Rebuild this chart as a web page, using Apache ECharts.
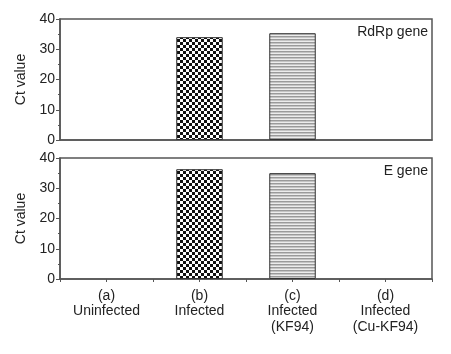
<!DOCTYPE html>
<html>
<head>
<meta charset="utf-8">
<script src="https://cdn.jsdelivr.net/npm/echarts@6/dist/echarts.min.js"></script>
<style>
  html, body { margin: 0; padding: 0; background: #fff; }
  #chart { width: 451px; height: 354px; }
</style>
</head>
<body>
<div id="chart"></div>
<script>
// categories and values (Ct values, 0 = not detected)
const categories = ['(a)\nUninfected', '(b)\nInfected', '(c)\nInfected\n(KF94)', '(d)\nInfected\n(Cu-KF94)']
const rdrpValues = [0, 34, 35.3, 0]
const eGeneValues = [0, 36.3, 35, 0]
const yTicks = [0, 10, 20, 30, 40]
const panelNames = ['RdRp gene', 'E gene']

// fill patterns
function checkerPattern() {
  const c = document.createElement('canvas')
  c.width = 6
  c.height = 6
  const ctx = c.getContext('2d')
  ctx.fillStyle = '#fff'
  ctx.fillRect(0, 0, 6, 6)
  ctx.fillStyle = '#111'
  ctx.fillRect(0, 0, 3, 3)
  ctx.fillRect(3, 3, 3, 3)
  return { image: c, repeat: 'repeat' }
}
function stripePattern() {
  const c = document.createElement('canvas')
  c.width = 4
  c.height = 3
  const ctx = c.getContext('2d')
  ctx.fillStyle = '#9a9a9a'
  ctx.fillRect(0, 0, 4, 1)
  ctx.fillStyle = '#c4c4c4'
  ctx.fillRect(0, 1, 4, 1)
  ctx.fillStyle = '#ececec'
  ctx.fillRect(0, 2, 4, 1)
  return { image: c, repeat: 'repeat' }
}
const fills = [null, checkerPattern(), stripePattern(), null]

function toData(values) {
  return values.map((v, i) => ({
    value: v,
    itemStyle: fills[i] ? { color: fills[i] } : { color: 'transparent', borderWidth: 0 }
  }))
}

const lineColor = '#555'
const textColor = '#222'
const font = 'Liberation Sans, Arial, sans-serif'

const chart = echarts.init(document.getElementById('chart'))

function yAxisFor(gridIndex) {
  return {
    type: 'value',
    gridIndex,
    min: yTicks[0],
    max: yTicks[yTicks.length - 1],
    interval: 10,
    name: 'Ct value',
    nameLocation: 'middle',
    nameGap: 30,
    nameTextStyle: { color: textColor, fontSize: 14, fontFamily: font },
    axisLine: { show: true, lineStyle: { color: lineColor, width: 1.5 } },
    axisTick: { show: true, length: 4, lineStyle: { color: lineColor } },
    minorTick: { show: true, splitNumber: 2, length: 2, lineStyle: { color: lineColor } },
    axisLabel: { color: textColor, fontSize: 14, fontFamily: font, margin: 5 },
    splitLine: { show: false }
  }
}

const option = {
  animation: false,
  grid: [
    { left: 60, right: 19, top: 19, height: 121, show: true, borderColor: lineColor, borderWidth: 1.5 },
    { left: 60, right: 19, top: 158, height: 121, show: true, borderColor: lineColor, borderWidth: 1.5 },
    // same box as the lower panel, only for the tick marks
    { left: 60, right: 19, top: 158, height: 121, show: false }
  ],
  xAxis: [
    {
      type: 'category', gridIndex: 0, data: categories,
      axisLine: { lineStyle: { color: lineColor, width: 1.5 } },
      axisTick: { show: false },
      axisLabel: { show: false }
    },
    {
      type: 'category', gridIndex: 1, data: categories,
      axisLine: { lineStyle: { color: lineColor, width: 1.5 } },
      axisTick: { show: false },
      axisLabel: {
        color: textColor, fontSize: 14, fontFamily: font, margin: 9,
        lineHeight: 15.5, interval: 0
      }
    },
    {
      // ticks at category centres and boundaries (half-category steps)
      type: 'value', gridIndex: 2, min: 0, max: categories.length, interval: 0.5,
      axisLine: { show: false },
      axisTick: { show: true, length: 3, lineStyle: { color: lineColor } },
      axisLabel: { show: false },
      splitLine: { show: false }
    }
  ],
  yAxis: [
    yAxisFor(0),
    yAxisFor(1),
    { type: 'value', gridIndex: 2, min: 0, max: 40, show: false }
  ],
  graphic: [
    {
      type: 'text', right: 23, top: 25,
      style: { text: panelNames[0], fill: textColor, font: '14px ' + font }
    },
    {
      type: 'text', right: 23, top: 164,
      style: { text: panelNames[1], fill: textColor, font: '14px ' + font }
    }
  ],
  series: [
    {
      type: 'bar', xAxisIndex: 0, yAxisIndex: 0,
      data: toData(rdrpValues),
      barWidth: '50%',
      itemStyle: { borderColor: '#333', borderWidth: 1 }
    },
    {
      type: 'bar', xAxisIndex: 1, yAxisIndex: 1,
      data: toData(eGeneValues),
      barWidth: '50%',
      itemStyle: { borderColor: '#333', borderWidth: 1 }
    }
  ]
}
chart.setOption(option)
</script>
</body>
</html>
